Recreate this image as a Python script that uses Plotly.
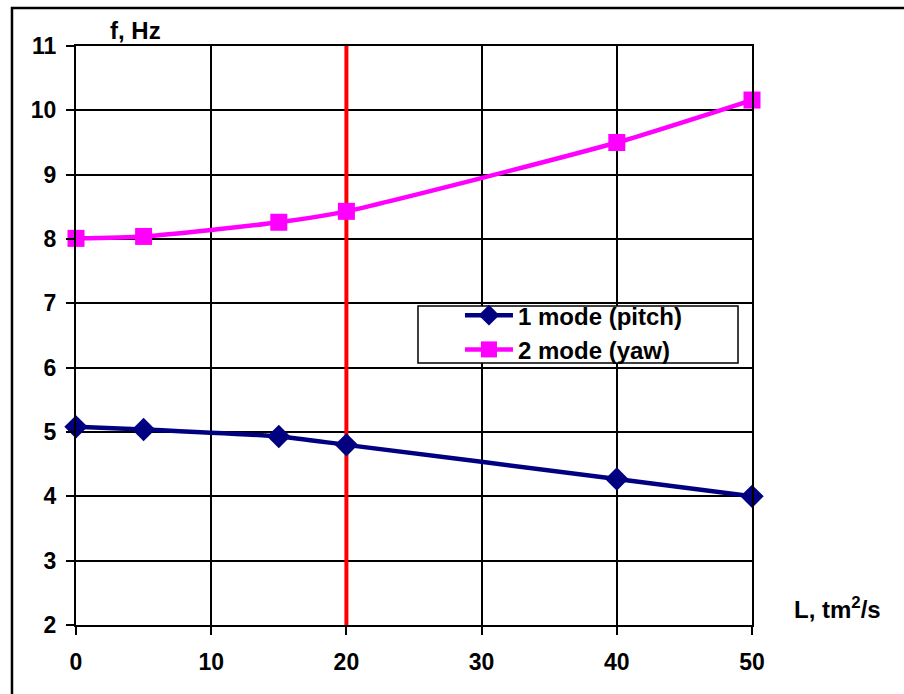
import plotly.graph_objects as go

L_pts = [0, 5, 15, 20, 40, 50]
pitch = [5.08, 5.04, 4.93, 4.80, 4.27, 4.00]
yaw = [8.01, 8.04, 8.26, 8.43, 9.50, 10.16]
marker_L = 20
y_range = [2, 11]
x_range = [0, 50]

FONT = "Liberation Sans"

fig = go.Figure()

fig.add_trace(go.Scatter(x=[marker_L, marker_L], y=y_range, mode="lines",
                         line=dict(color="#FF0000", width=4), showlegend=False,
                         hoverinfo="skip", cliponaxis=False))
fig.add_trace(go.Scatter(x=L_pts, y=pitch, mode="lines+markers", name="1 mode (pitch)",
                         line=dict(color="#000080", width=4.5, shape="spline", smoothing=0.6),
                         marker=dict(symbol="diamond", size=18, color="#000080"),
                         cliponaxis=False))
fig.add_trace(go.Scatter(x=L_pts, y=yaw, mode="lines+markers", name="2 mode (yaw)",
                         line=dict(color="#FF00FF", width=4.5, shape="spline", smoothing=0.6),
                         marker=dict(symbol="square", size=17, color="#FF00FF"),
                         cliponaxis=False))

axis_common = dict(showgrid=True, gridcolor="#000000", gridwidth=1.5,
                   showline=True, linecolor="#000000", linewidth=2, mirror=True,
                   ticks="outside", ticklen=8, tickwidth=1.5, tickcolor="#000000",
                   zeroline=False,
                   tickfont=dict(family=FONT, size=23, color="#000000", weight="bold"))

fig.update_xaxes(range=x_range, dtick=10, tick0=0, ticklabelstandoff=7, **axis_common)
fig.update_yaxes(range=y_range, dtick=1, tick0=2, ticklabelstandoff=5, **axis_common)

fig.update_layout(
    width=904, height=694,
    margin=dict(l=76, r=152, t=46, b=69),
    paper_bgcolor="white", plot_bgcolor="white",
    font=dict(family=FONT, size=23, color="#000000"),
    legend=dict(x=0.568, y=0.505, xanchor="left", yanchor="middle",
                bgcolor="rgba(0,0,0,0)", borderwidth=0,
                font=dict(family=FONT, size=24, color="#000000", weight="bold"),
                itemwidth=48, tracegroupgap=0),
    annotations=[
        dict(text="f, Hz", xref="paper", yref="paper", x=0.0873, y=1.0276,
             xanchor="center", yanchor="middle", showarrow=False,
             font=dict(family=FONT, size=24, color="#000000", weight="bold")),
        dict(text="L, tm<sup>2</sup>/s", xref="paper", yref="paper", x=1.127, y=0.0294,
             xanchor="center", yanchor="middle", showarrow=False,
             font=dict(family=FONT, size=24, color="#000000", weight="bold")),
    ],
    shapes=[
        dict(type="rect", xref="paper", yref="paper", x0=-0.0947, x1=1.5,
             y0=-0.5, y1=1.0656, line=dict(color="#000000", width=2.5),
             fillcolor="rgba(0,0,0,0)", layer="below"),
        dict(type="rect", xref="paper", yref="paper", x0=0.5059, x1=0.9793,
             y0=0.4525, y1=0.5509, line=dict(color="#000000", width=1.5),
             fillcolor="white", layer="above"),
    ],
)

fig.write_html("out.html")
